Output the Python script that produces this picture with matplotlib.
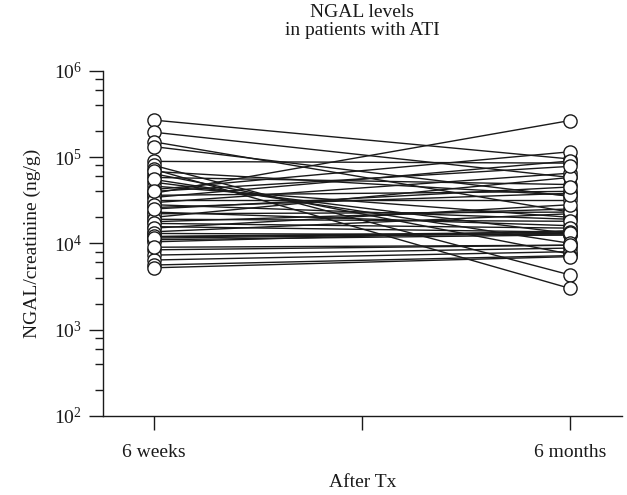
import matplotlib
matplotlib.use("Agg")
import matplotlib.pyplot as plt
from matplotlib.ticker import LogLocator, FixedLocator, NullFormatter

plt.rcParams['font.family'] = ['Liberation Serif', 'DejaVu Serif']
plt.rcParams['mathtext.default'] = 'regular'

timepoints = ["6 weeks", "6 months"]
week6 = [2.68e5, 1.94e5, 1.50e5, 1.32e5, 8.9e4, 8.0e4, 7.2e4, 6.4e4, 5.8e4, 5.1e4,
         4.6e4, 4.2e4, 3.8e4, 3.4e4, 2.96e4, 2.6e4, 2.3e4, 2.0e4, 1.78e4, 1.56e4,
         1.36e4, 1.19e4, 1.1e4, 1.04e4, 8.4e3, 7.3e3, 6.4e3, 5.6e3, 5.2e3, 3.6e4,
         3.2e4, 2.8e4, 2.2e4, 1.9e4, 1.7e4, 1.5e4, 1.3e4, 1.2e4, 1.15e4, 6.8e4,
         5.5e4, 4.0e4, 2.5e4, 9.0e3]
month6 = [9.5e4, 5.8e4, 2.3e4, 3.5e4, 8.5e4, 4.3e3, 3.0e3, 7.5e3, 4.8e4, 1.3e4,
          2.0e4, 1.15e5, 2.65e5, 9.0e4, 6.5e4, 3.8e4, 1.6e4, 5.8e4, 2.5e4, 1.35e4,
          2.2e4, 1.3e4, 1.25e4, 1.4e4, 9.5e3, 8.8e3, 8.0e3, 7.2e3, 7.0e3, 4.0e4,
          3.2e4, 1.9e4, 2.3e4, 1.8e4, 1.5e4, 2.8e4, 1.25e4, 1.35e4, 1.3e4, 3.6e4,
          1.0e4, 7.8e4, 4.5e4, 9.5e3]
ytick_vals = [1e2, 1e3, 1e4, 1e5, 1e6]
ytick_labels = ["10$^{2}$", "10$^{3}$", "10$^{4}$", "10$^{5}$", "10$^{6}$"]

fig = plt.figure(figsize=(6.27, 4.95), dpi=100)
ax = fig.add_axes([0.164, 0.160, 0.828, 0.697])

xpos = [0, 1]
for a, b in zip(week6, month6):
    ax.plot(xpos, [a, b], color='#1a1a1a', lw=1.0, marker='o', ms=9.5,
            mfc='white', mec='#1a1a1a', mew=1.0, zorder=2)

ax.set_yscale('log')
ax.set_ylim(1e2, 1e6)
ax.set_xlim(-0.1226, 1.125)
ax.yaxis.set_major_locator(FixedLocator(ytick_vals))
ax.set_yticklabels(ytick_labels)
ax.yaxis.set_minor_locator(LogLocator(base=10, subs=[2, 4, 6, 8]))
ax.yaxis.set_minor_formatter(NullFormatter())
ax.set_xticks([0, 0.5, 1])
ax.set_xticklabels([timepoints[0], "", timepoints[1]])

for s in ['top', 'right']:
    ax.spines[s].set_visible(False)
for s in ['left', 'bottom']:
    ax.spines[s].set_linewidth(1.0)
    ax.spines[s].set_color('#1a1a1a')

ax.tick_params(axis='x', which='major', direction='out', length=10, width=1.0,
               pad=10, labelsize=14, colors='#1a1a1a')
ax.tick_params(axis='y', which='major', direction='out', length=10, width=1.0,
               pad=5, labelsize=14, colors='#1a1a1a')
ax.tick_params(axis='y', which='minor', direction='out', length=6, width=1.0,
               colors='#1a1a1a')

ax.set_xlabel("After Tx", fontsize=14, labelpad=10, color='#1a1a1a')
ax.set_ylabel("NGAL/creatinine (ng/g)", fontsize=14, labelpad=9, color='#1a1a1a')
ax.set_title("NGAL levels\nin patients with ATI", fontsize=14, pad=26,
             color='#1a1a1a', linespacing=1.05)

fig.savefig("out.png", dpi=100)
